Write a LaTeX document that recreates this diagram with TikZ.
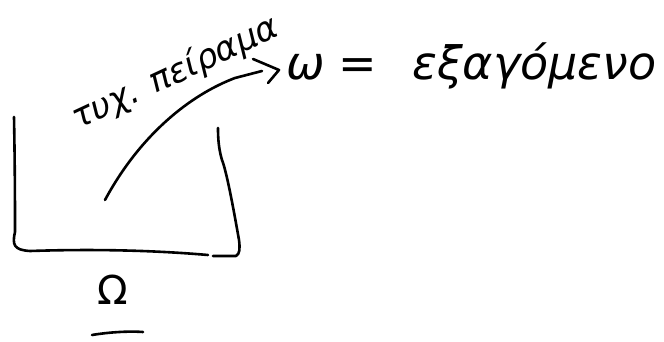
\documentclass[tikz,border=0pt]{standalone}
\usepackage{fontspec}
\setmainfont{DejaVu Sans}
\begin{document}
\begin{tikzpicture}[x=1pt,y=-1pt,
  pen/.style={line width=2.6pt,line cap=round,line join=round,black},
  hand/.style={font=\fontsize{46}{48}\selectfont\itshape,inner sep=0pt,anchor=base west}]
\useasboundingbox[fill=white] (0,0) rectangle (664,342);
% box
\draw[pen] (14,117) .. controls (15,170) and (15,210) .. (15,232)
  .. controls (12,245) and (14,250) .. (30,251)
  .. controls (90,249) and (150,250) .. (208,255);
\draw[pen] (213,256) -- (236,256) .. controls (240,254) and (240,248) .. (239,240)
  .. controls (232,200) and (226,170) .. (222,160) .. controls (219,150) and (218,140) .. (218,128);
% label below
\node[font=\fontsize{40}{42}\selectfont,inner sep=0pt] (om) at (113,290) {Ω};
\coordinate (ul1) at (92,335);
\coordinate (ul2) at (143,332);
\draw[pen] (ul1) .. controls (110,332) and (130,331) .. (ul2);
% outcome text
\node[hand] (w) at (286,80) {ω};
\node[hand] (eq) at (338,80) {=};
\node[hand] (rest) at (412,80) {εξαγόμενο};
% arc with arrow
\coordinate (s) at (105,200);
\draw[pen] (s) .. controls (140,135) and (190,95) .. (235,78) -- (262,71);
\draw[pen] (253,59) -- (279,70) -- (268,83);
% rotated label
\node[font=\fontsize{34}{36}\selectfont\itshape,inner sep=0pt,rotate=25,anchor=base west] (lab) at (78,130) {τυχ. πείραμα};
\end{tikzpicture}
\end{document}
